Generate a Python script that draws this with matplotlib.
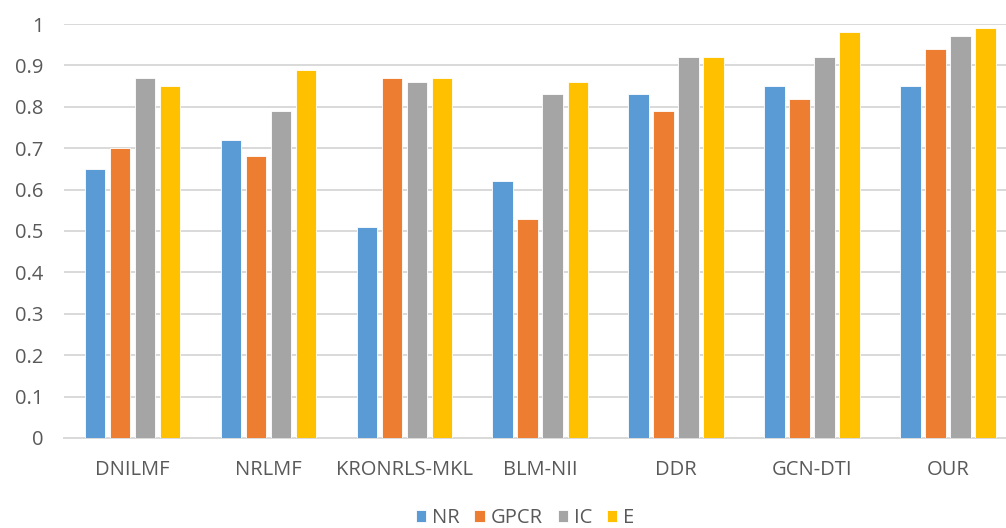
import numpy as np
import matplotlib
matplotlib.use('Agg')
import matplotlib.pyplot as plt

methods = ['DNILMF', 'NRLMF', 'KRONRLS-MKL', 'BLM-NII', 'DDR', 'GCN-DTI', 'OUR']
series_names = ['NR', 'GPCR', 'IC', 'E']
nr = [0.65, 0.72, 0.51, 0.62, 0.83, 0.85, 0.85]
gpcr = [0.70, 0.68, 0.87, 0.53, 0.79, 0.82, 0.94]
ic = [0.87, 0.79, 0.86, 0.83, 0.92, 0.92, 0.97]
e = [0.85, 0.89, 0.87, 0.86, 0.92, 0.98, 0.99]
yticks = [0, 0.1, 0.2, 0.3, 0.4, 0.5, 0.6, 0.7, 0.8, 0.9, 1]

COLORS = ['#5B9BD5', '#ED7D31', '#A5A5A5', '#FFC000']
TEXT = '#595959'

plt.rcParams['font.family'] = ['Open Sans', 'DejaVu Sans']

fig = plt.figure(figsize=(10.06, 5.28), dpi=100)
# plot area runs a little past the right edge of the canvas
ax = fig.add_axes([0.0641, 0.1705, 0.946, 0.784])

x = np.arange(len(methods))
width = 0.152
pitch = 0.184
for i, (name, vals) in enumerate(zip(series_names, [nr, gpcr, ic, e])):
    offs = (i - 1.5) * pitch
    ax.bar(x + offs, vals, width, color=COLORS[i], label=name,
           edgecolor='white', linewidth=0.6, zorder=3)

ax.set_xlim(-0.5, len(methods) - 0.5)
ax.set_ylim(0, 1)
ax.set_yticks(yticks)
ax.set_yticklabels(['0' if t == 0 else ('1' if t == 1 else f'{t:.1f}') for t in yticks])
ax.yaxis.grid(True, color='#D9D9D9', linewidth=1.4, zorder=0)
ax.set_axisbelow(True)
for s in ['top', 'right', 'left']:
    ax.spines[s].set_visible(False)
ax.spines['bottom'].set_color('#D9D9D9')
ax.spines['bottom'].set_linewidth(1.4)
ax.set_xticks(x)
ax.set_xticklabels(methods)
ax.tick_params(axis='both', length=0, colors=TEXT, labelsize=14.5)
ax.tick_params(axis='y', pad=15)
ax.tick_params(axis='x', pad=16)

fig.legend(loc='lower center', bbox_to_anchor=(0.522, -0.035), ncol=4, frameon=False,
           fontsize=14.5, labelcolor=TEXT, handlelength=0.5, handleheight=0.5,
           handletextpad=0.3, columnspacing=0.75)

fig.savefig('out.png', dpi=100)
